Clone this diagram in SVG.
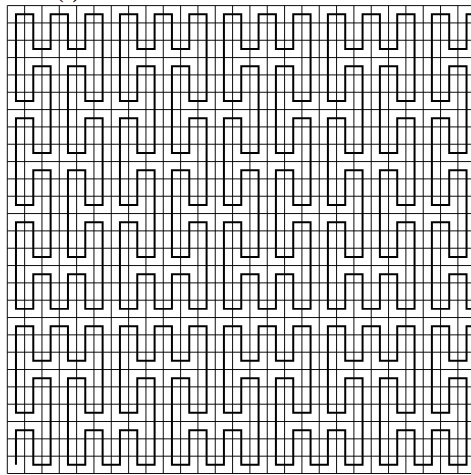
<svg xmlns="http://www.w3.org/2000/svg" width="471" height="475" viewBox="0 0 471 475">
<style>
.grid{fill:none;stroke:#000;stroke-width:0.055}
.route{fill:none;stroke:#000;stroke-width:0.115;stroke-linejoin:miter;stroke-linecap:butt}
.lbl{font-family:"Liberation Serif",serif;font-size:20px;fill:#000}
</style>
<rect width="471" height="475" fill="#fff"/>
<text class="lbl" x="57" y="-2.3">(a)</text>
<g id="board" transform="translate(7.3 5.6) scale(17.33)">
<path id="grid" class="grid" d="M0 0v27m1-27v27m1-27v27m1-27v27m1-27v27m1-27v27m1-27v27m1-27v27m1-27v27m1-27v27m1-27v27m1-27v27m1-27v27m1-27v27m1-27v27m1-27v27m1-27v27m1-27v27m1-27v27m1-27v27m1-27v27m1-27v27m1-27v27m1-27v27m1-27v27m1-27v27m1-27v27m1-27v27m1-27v27m1-27v27m1-27v27M0 0h30m-30 1h30m-30 1h30m-30 1h30m-30 1h30m-30 1h30m-30 1h30m-30 1h30m-30 1h30m-30 1h30m-30 1h30m-30 1h30m-30 1h30m-30 1h30m-30 1h30m-30 1h30m-30 1h30m-30 1h30m-30 1h30m-30 1h30m-30 1h30m-30 1h30m-30 1h30m-30 1h30m-30 1h30m-30 1h30m-30 1h30m-30 1h30"/>
<g id="connectors">
<path id="cycles" class="route" d="M0.5 0.5h1v2h1v-2h1v2h1v-2h1v5h-1v-2h-1v5h1v-2h1v5h-1v-2h-1v5h1v-2h1v5h-1v-2h-1v2h-1v-2h-1v2h-1v-5h1v2h1v-5h-1v2h-1v-5h1v2h1v-5h-1v2h-1zm6 0h1v2h1v-2h1v2h1v-2h1v5h-1v-2h-1v5h1v-2h1v5h-1v-2h-1v5h1v-2h1v5h-1v-2h-1v2h-1v-2h-1v2h-1v-5h1v2h1v-5h-1v2h-1v-5h1v2h1v-5h-1v2h-1zm6 0h1v2h1v-2h1v2h1v-2h1v5h-1v-2h-1v5h1v-2h1v5h-1v-2h-1v5h1v-2h1v5h-1v-2h-1v2h-1v-2h-1v2h-1v-5h1v2h1v-5h-1v2h-1v-5h1v2h1v-5h-1v2h-1zm6 0h1v2h1v-2h1v2h1v-2h1v5h-1v-2h-1v5h1v-2h1v5h-1v-2h-1v5h1v-2h1v5h-1v-2h-1v2h-1v-2h-1v2h-1v-5h1v2h1v-5h-1v2h-1v-5h1v2h1v-5h-1v2h-1zm6 0h1v2h1v-2h1v2h1v-2h1v5h-1v-2h-1v5h1v-2h1v5h-1v-2h-1v5h1v-2h1v5h-1v-2h-1v2h-1v-2h-1v2h-1v-5h1v2h1v-5h-1v2h-1v-5h1v2h1v-5h-1v2h-1z"/>
<path id="chain" class="route" d="M0.5 26.5v-2h1v2h1v-5h-1v2h-1v-5h1v2h1v-2h1v2h1v-2h1v5h-1v-2h-1v5h1v-2h1v2h1v-2h1v2h1v-5h-1v2h-1v-5h1v2h1v-2h1v2h1v-2h1v5h-1v-2h-1v5h1v-2h1v2h1v-2h1v2h1v-5h-1v2h-1v-5h1v2h1v-2h1v2h1v-2h1v5h-1v-2h-1v5h1v-2h1v2h1v-2h1v2h1v-5h-1v2h-1v-5h1v2h1v-2h1v2h1v-2h1v5h-1v-2h-1v5h1v-2h1v2h1v-2h1v2h1v-5h-1v2h-1v-5h1v2h1v-2h1v2h1v-2h1v5h-1v-2h-1v5h1v-2h1v2h1"/>
</g>
</g>
</svg>
